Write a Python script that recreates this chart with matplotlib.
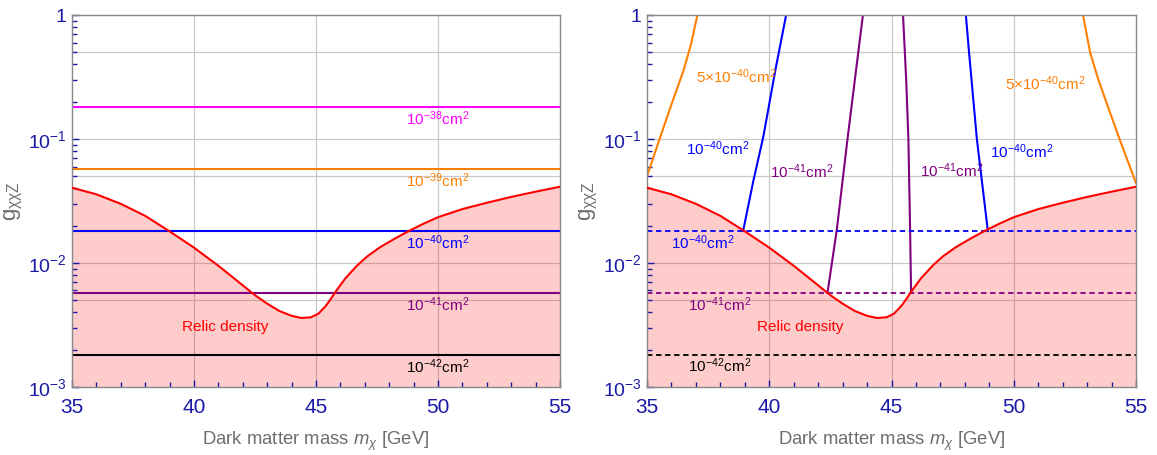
import numpy as np
import matplotlib
matplotlib.use('Agg')
import matplotlib.pyplot as plt
from matplotlib.ticker import FixedLocator, FuncFormatter, MultipleLocator

plt.rcParams['font.family'] = ['Liberation Sans', 'DejaVu Sans']
plt.rcParams['mathtext.fontset'] = 'custom'
plt.rcParams['mathtext.rm'] = 'Liberation Sans'
plt.rcParams['mathtext.it'] = 'Liberation Sans:italic'
plt.rcParams['mathtext.bf'] = 'Liberation Sans:bold'

# relic density curve
relic_m = [35, 36, 37, 38, 39, 40, 41, 42, 42.5, 43, 43.5, 44, 44.4, 44.8, 45.1,
           45.4, 45.6, 45.8, 46.2, 46.7, 47.1, 47.6, 48.2, 48.8, 49.4, 50,
           51, 52, 53, 54, 55]
relic_g = [0.0405, 0.0358, 0.0300, 0.0240, 0.0180, 0.0133, 0.0095, 0.0066, 0.0055,
           0.0047, 0.0041, 0.00375, 0.00360, 0.00365, 0.0039, 0.0045, 0.0051, 0.00585,
           0.0075, 0.0096, 0.0113, 0.0133, 0.0156, 0.0181, 0.0207, 0.0234,
           0.0272, 0.0306, 0.0341, 0.0376, 0.0412]

# cross-section levels (left panel horizontal lines)
sigma_exp = [-38, -39, -40, -41, -42]
sigma_g = [0.181, 0.0573, 0.0181, 0.00573, 0.00181]
sigma_col = ['#ff00ff', '#ff8000', '#0000ff', '#800080', '#000000']

# right panel contours
orange_l_m = [35, 35.5, 36, 36.5, 36.8, 37.06]
orange_l_g = [0.050, 0.098, 0.19, 0.36, 0.58, 1.0]
orange_r_m = [52.83, 53.12, 53.46, 53.8, 54.34, 55]
orange_r_g = [1.0, 0.5, 0.3, 0.194, 0.098, 0.044]
blue_l_m = [38.93, 39.35, 39.76, 40.25, 40.69]
blue_l_g = [0.0181, 0.046, 0.105, 0.36, 1.0]
blue_r_m = [48.04, 48.17, 48.49, 48.94]
blue_r_g = [1.0, 0.5, 0.1, 0.0181]
purple_l_m = [42.38, 42.76, 43.2, 43.5, 43.83]
purple_l_g = [0.00573, 0.0184, 0.1, 0.3, 1.0]
purple_r_m = [45.47, 45.6, 45.69, 45.76, 45.8]
purple_r_g = [1.0, 0.3, 0.1, 0.0184, 0.00573]

tick_blue = '#1a1aa8'
label_gray = '#6e6e6e'

fig = plt.figure(figsize=(11.57, 4.55), dpi=100)
ax1 = fig.add_axes([0.0622, 0.1495, 0.4218, 0.8175])
ax2 = fig.add_axes([0.5592, 0.1495, 0.4227, 0.8175])


def style(ax):
    ax.set_xlim(35, 55)
    ax.set_yscale('log')
    ax.set_ylim(1e-3, 1)
    ax.xaxis.set_major_locator(MultipleLocator(5))
    ax.xaxis.set_minor_locator(MultipleLocator(1))
    ax.yaxis.set_major_locator(FixedLocator([1e-3, 1e-2, 1e-1, 1]))
    ax.yaxis.set_minor_locator(FixedLocator([k * 10.0 ** e for e in (-3, -2, -1) for k in range(2, 10)]))
    ax.yaxis.set_major_formatter(FuncFormatter(
        lambda v, p: '1' if v >= 0.99 else r'$\mathregular{10^{%d}}$' % round(np.log10(v))))
    ax.tick_params(which='both', direction='in', colors=tick_blue,
                   top=False, right=False)
    ax.tick_params(axis='x', labelsize=15, pad=8)
    ax.tick_params(axis='y', labelsize=14, pad=4)
    ax.tick_params(which='major', length=5, width=1)
    ax.tick_params(which='minor', length=3.5, width=1)
    for s in ax.spines.values():
        s.set_color('#888888')
        s.set_linewidth(1)
    for x in (40, 45, 50):
        ax.axvline(x, color='#c8c8c8', lw=0.9, zorder=0.5)
    for y in (0.5, 0.1, 0.05, 0.01, 0.005):
        ax.axhline(y, color='#c8c8c8', lw=0.9, zorder=0.5)
    ax.fill_between(relic_m, 1e-4, relic_g, color='red', alpha=0.2, lw=0, zorder=1)
    ax.plot(relic_m, relic_g, color='red', lw=1.5, zorder=3)
    ax.text(41.27, 0.00305, 'Relic density', color='red', fontsize=11,
            ha='center', va='center')
    ax.set_xlabel(r'Dark matter mass $m_\chi$ [GeV]', color=label_gray, fontsize=13.3, labelpad=9)
    ax.set_ylabel(r'$\mathregular{g_{\chi\chi Z}}$', color=label_gray, fontsize=16)
    ax.yaxis.set_label_coords(-0.096, 0.5)


def cm2(e, pre=''):
    return r'%s$\mathregular{10^{%d}}$cm$\mathregular{^2}$' % (pre, e)


style(ax1)
style(ax2)

# left panel: horizontal constant cross-section lines
for e, g, c in zip(sigma_exp, sigma_g, sigma_col):
    ax1.axhline(g, color=c, lw=1.5, zorder=2)
    ax1.text(50.0, g * 0.8, cm2(e), color=c, fontsize=11, ha='center', va='center')

# right panel
ax2.plot(orange_l_m, orange_l_g, color='#ff8000', lw=1.5, zorder=2)
ax2.plot(orange_r_m, orange_r_g, color='#ff8000', lw=1.5, zorder=2)
ax2.plot(blue_l_m, blue_l_g, color='#0000ff', lw=1.5, zorder=2)
ax2.plot(blue_r_m, blue_r_g, color='#0000ff', lw=1.5, zorder=2)
ax2.plot(purple_l_m, purple_l_g, color='#800080', lw=1.5, zorder=2)
ax2.plot(purple_r_m, purple_r_g, color='#800080', lw=1.5, zorder=2)
for g, c in zip(sigma_g[2:], sigma_col[2:]):
    ax2.axhline(g, color=c, lw=1.3, ls=(0, (3, 2)), zorder=2)

ax2.text(38.64, 0.316, cm2(-40, r'5$\times$'), color='#ff8000', fontsize=11, ha='center', va='center')
ax2.text(51.28, 0.278, cm2(-40, r'5$\times$'), color='#ff8000', fontsize=11, ha='center', va='center')
ax2.text(37.9, 0.083, cm2(-40), color='#0000ff', fontsize=11, ha='center', va='center')
ax2.text(50.34, 0.0786, cm2(-40), color='#0000ff', fontsize=11, ha='center', va='center')
ax2.text(41.34, 0.0542, cm2(-41), color='#800080', fontsize=11, ha='center', va='center')
ax2.text(47.47, 0.056, cm2(-41), color='#800080', fontsize=11, ha='center', va='center')
ax2.text(37.26, 0.0145, cm2(-40), color='#0000ff', fontsize=11, ha='center', va='center')
ax2.text(37.99, 0.00458, cm2(-41), color='#800080', fontsize=11, ha='center', va='center')
ax2.text(37.99, 0.00148, cm2(-42), color='#000000', fontsize=11, ha='center', va='center')

fig.savefig('out.png', dpi=100)
